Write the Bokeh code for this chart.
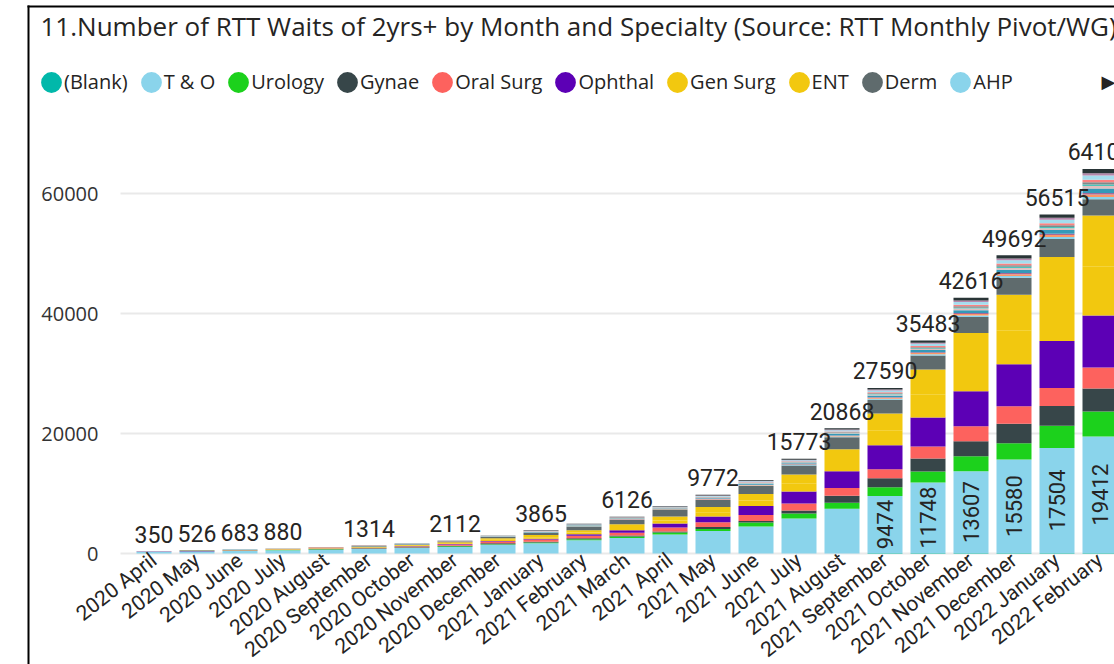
import math
import numpy as np
from bokeh.plotting import figure
from bokeh.models import (ColumnDataSource, FixedTicker, NumeralTickFormatter, Range1d,
                          Legend, LegendItem, BoxAnnotation, Label)
from bokeh.core.properties import value
from bokeh.embed import file_html
from bokeh.resources import INLINE

TITLE = "11.Number of RTT Waits of 2yrs+ by Month and Specialty (Source: RTT Monthly Pivot/WG)"

months = ["2020 April", "2020 May", "2020 June", "2020 July", "2020 August",
          "2020 September", "2020 October", "2020 November", "2020 December",
          "2021 January", "2021 February", "2021 March", "2021 April", "2021 May",
          "2021 June", "2021 July", "2021 August", "2021 September", "2021 October",
          "2021 November", "2021 December", "2022 January", "2022 February"]

blank = [0, 0, 0, 0, 0, 0, 0, 0, 0, 0, 0, 0, 0, 0, 0, 0, 0, 100, 100, 100, 100, 100, 100]
t_o = [230, 330, 420, 560, 640, 740, 900, 1100, 1450, 1700, 2200, 2600, 3170, 3750, 4500,
       5830, 7450, 9474, 11748, 13607, 15580, 17504, 19412]
urology = [10, 15, 20, 40, 50, 60, 70, 90, 100, 120, 170, 250, 330, 330, 670, 830, 1000,
           1450, 1830, 2500, 2700, 3670, 4170]
gynae = [15, 30, 30, 30, 50, 70, 80, 100, 150, 150, 170, 170, 170, 330, 250, 500, 1170,
         1500, 2170, 2500, 3250, 3330, 3830]
oral_surg = [10, 15, 20, 20, 40, 50, 80, 200, 300, 350, 400, 420, 670, 800, 1000, 1170,
             1300, 1500, 2000, 2500, 2900, 3000, 3500]
ophthal = [10, 15, 60, 30, 40, 50, 60, 80, 100, 150, 250, 420, 670, 950, 1500, 2000, 2800,
           4000, 4830, 5830, 7000, 7830, 8670]
gen_surg = [10, 15, 15, 30, 50, 70, 100, 150, 200, 250, 300, 400, 500, 700, 900, 1300, 1700,
            2500, 3800, 4700, 5600, 6800, 8100]
ent = [15, 20, 20, 40, 70, 90, 120, 150, 250, 350, 390, 600, 670, 900, 1100, 1530, 1950,
       2800, 4200, 5000, 6000, 7200, 8570]
derm = [20, 40, 40, 50, 60, 64, 80, 110, 200, 350, 570, 766, 1170, 1150, 1330, 1500, 2000,
        2300, 2330, 2670, 2830, 3000, 2670]
ahp = [3, 4, 5, 6, 8, 10, 13, 11, 16, 36, 40, 42, 44, 69, 80, 89, 120, 157, 198, 257, 299, 326, 406]
cardiology = [2, 4, 5, 7, 8, 10, 13, 10, 16, 35, 40, 38, 44, 69, 80, 89, 120, 157, 198, 257, 299, 326, 406]
gastro = [2, 2, 3, 4, 5, 6, 8, 7, 10, 22, 25, 26, 28, 43, 50, 56, 75, 98, 124, 160, 187, 204, 254]
neurology = [4, 7, 8, 12, 15, 18, 24, 20, 30, 67, 75, 74, 82, 129, 150, 167, 225, 295, 371, 481, 560, 612, 762]
plastic_surg = [3, 4, 5, 6, 8, 9, 13, 10, 16, 36, 40, 40, 44, 69, 80, 89, 120, 157, 198, 257, 299, 326, 406]
neurosurg = [1, 2, 3, 4, 5, 6, 8, 7, 10, 22, 25, 24, 28, 43, 50, 56, 75, 98, 124, 160, 187, 204, 254]
respiratory = [3, 3, 4, 6, 7, 8, 11, 9, 14, 31, 35, 36, 38, 60, 70, 78, 105, 138, 173, 225, 261, 286, 356]
cardiothoracic = [2, 4, 5, 6, 8, 10, 13, 11, 16, 36, 40, 40, 44, 69, 80, 89, 120, 157, 198, 257, 299, 326, 406]
rheumatology = [4, 6, 8, 11, 14, 17, 22, 18, 28, 62, 70, 70, 77, 121, 140, 156, 209, 275, 347, 449, 522, 571, 711]
paediatrics = [2, 4, 5, 7, 8, 10, 13, 11, 16, 36, 40, 40, 44, 69, 80, 89, 120, 157, 198, 257, 299, 326, 406]
other = [4, 6, 7, 11, 14, 16, 22, 18, 28, 62, 70, 70, 77, 121, 140, 155, 209, 277, 346, 449, 520, 574, 714]

series_names = ["(Blank)", "T & O", "Urology", "Gynae", "Oral Surg", "Ophthal", "Gen Surg",
                "ENT", "Derm", "AHP", "Cardiology", "Gastro", "Neurology", "Plastic Surg",
                "Neurosurg", "Respiratory", "Cardiothoracic", "Rheumatology", "Paediatrics", "Other"]
series_values = [blank, t_o, urology, gynae, oral_surg, ophthal, gen_surg, ent, derm, ahp,
                 cardiology, gastro, neurology, plastic_surg, neurosurg, respiratory,
                 cardiothoracic, rheumatology, paediatrics, other]
colors = ["#01B8AA", "#8AD4EB", "#1CD11C", "#374649", "#FD625E", "#5C00B5", "#F2C80F",
          "#F2C80F", "#5F6B6D", "#8AD4EB", "#FE9666", "#A66999", "#3599B8", "#DFBFBF",
          "#4AC5BB", "#7F898A", "#FB8281", "#A4DDEE", "#B687AC", "#293537"]
legend_count = 10

# which month totals get a data label (others hidden by overlap in the original)
total_label_months = [0, 1, 2, 3, 5, 7, 9, 11, 13, 15, 16, 17, 18, 19, 20, 21, 22]
# which months show the T & O value inside the bar
to_label_months = [17, 18, 19, 20, 21, 22]
y_ticks = [0, 20000, 40000, 60000]

# ---- layout constants (pixels within the canvas) ----
W, H = 1114, 664
PX_PER_CAT = 43.0          # distance between bar centres
FIRST_BAR_PX = 153.5       # centre of first bar
PLOT_LEFT_PX = 120         # left edge of plotting area (grid start)
BASE_PX = 553              # y pixel of value 0
PX_PER_UNIT = 0.006        # vertical pixels per unit

x_start = -FIRST_BAR_PX / PX_PER_CAT
x_end = (W - FIRST_BAR_PX) / PX_PER_CAT
y_start = -(H - BASE_PX) / PX_PER_UNIT
y_end = BASE_PX / PX_PER_UNIT
plot_left = x_start + PLOT_LEFT_PX / PX_PER_CAT

x = list(range(len(months)))
data = {"x": x}
keys = []
for i, vals in enumerate(series_values):
    k = "s%d" % i
    data[k] = vals
    keys.append(k)
source = ColumnDataSource(data)

totals = [sum(col) for col in zip(*series_values)]

p = figure(width=W, height=H, output_backend="svg", toolbar_location=None,
           x_range=Range1d(x_start, x_end), y_range=Range1d(y_start, y_end),
           min_border=0)
p.outline_line_color = None
p.background_fill_color = "white"
p.border_fill_color = "white"

# grid lines (start at the plotting area's left edge)
grid_ok = "cross_bounds" in p.ygrid[0].properties()
if grid_ok:
    p.ygrid.ticker = FixedTicker(ticks=y_ticks)
    p.ygrid.cross_bounds = (plot_left, x_end + 1)
    p.ygrid.grid_line_color = "#e9e9e9"
    p.ygrid.grid_line_width = 2
else:
    p.ygrid.visible = False
    p.segment(x0=[plot_left] * len(y_ticks), x1=[x_end + 1] * len(y_ticks),
              y0=y_ticks, y1=y_ticks, line_color="#e9e9e9", line_width=2)
p.xgrid.visible = False

p.vbar_stack(keys, x="x", width=0.814, fill_color=colors, line_color=None, source=source)

# totals
tl = ColumnDataSource(dict(x=[x[i] for i in total_label_months],
                           y=[totals[i] for i in total_label_months],
                           t=[str(totals[i]) for i in total_label_months]))
p.text(x="x", y="y", text="t", source=tl, text_align="center", text_baseline="alphabetic",
       y_offset=-17, text_font=value("Roboto"), text_font_size="23px", text_color="#252423")

# T & O values inside bars
il = ColumnDataSource(dict(x=[x[i] for i in to_label_months],
                           y=[blank[i] + t_o[i] / 2 for i in to_label_months],
                           t=[str(t_o[i]) for i in to_label_months]))
p.text(x="x", y="y", text="t", source=il, angle=math.pi / 2, text_align="center",
       text_baseline="middle", text_font=value("Roboto"), text_font_size="22px",
       text_color="#252423")

# axes (drawn at fixed positions inside the canvas)
p.xaxis.fixed_location = 0
p.xaxis.ticker = FixedTicker(ticks=x)
p.xaxis.major_label_overrides = {i: m for i, m in enumerate(months)}
p.xaxis.major_label_orientation = math.radians(38)
p.xaxis.axis_line_color = None
p.xaxis.major_tick_line_color = None
p.xaxis.minor_tick_line_color = None
p.xaxis.major_tick_out = 0
p.xaxis.major_tick_in = 0
p.xaxis.major_label_standoff = 4
p.xaxis.major_label_text_font = "Roboto"
p.xaxis.major_label_text_font_size = "21px"
p.xaxis.major_label_text_color = "#252423"

p.yaxis.fixed_location = plot_left
p.yaxis.ticker = FixedTicker(ticks=y_ticks)
p.yaxis.formatter = NumeralTickFormatter(format="0")
p.yaxis.axis_line_color = None
p.yaxis.major_tick_line_color = None
p.yaxis.minor_tick_line_color = None
p.yaxis.major_tick_out = 0
p.yaxis.major_tick_in = 0
p.yaxis.major_label_standoff = 22
p.yaxis.major_label_text_font = "Open Sans"
p.yaxis.major_label_text_font_size = "20px"
p.yaxis.major_label_text_color = "#333333"

# title
p.add_layout(Label(x=40, y=H - 25, x_units="screen", y_units="screen", text=TITLE,
                   text_font="Open Sans", text_font_size="26px", text_color="#252423",
                   text_baseline="alphabetic", text_align="left"))

# legend (circle markers via screen-sized ellipses with no visible points)
nan_src = ColumnDataSource(dict(x=np.array([np.nan]), y=np.array([np.nan])))
items = []
for i in range(legend_count):
    r = p.ellipse(x="x", y="y", width=19, height=19, width_units="screen",
                  height_units="screen", fill_color=colors[i], line_color=None,
                  source=nan_src)
    items.append(LegendItem(label=series_names[i], renderers=[r]))
legend = Legend(items=items, orientation="horizontal", location=(38, H - 95),
                glyph_width=26, glyph_height=26, label_standoff=0, spacing=10,
                padding=0, margin=0, border_line_color=None, background_fill_alpha=0,
                label_text_font="Open Sans", label_text_font_size="20px",
                label_text_color="#252423")
p.add_layout(legend, "center")

p.add_layout(Label(x=1101, y=H - 81, x_units="screen", y_units="screen", text="\u25B6",
                   text_font="DejaVu Sans", text_font_size="18px", text_color="#252423",
                   text_baseline="middle", text_align="left"))

# frame border (left and top edges of the visual)
p.add_layout(BoxAnnotation(left=27, right=29, top=5, bottom=H,
                           left_units="canvas", right_units="canvas",
                           top_units="canvas", bottom_units="canvas",
                           fill_color="black", fill_alpha=1, line_color=None))
p.add_layout(BoxAnnotation(left=27, right=W, top=5, bottom=7,
                           left_units="canvas", right_units="canvas",
                           top_units="canvas", bottom_units="canvas",
                           fill_color="black", fill_alpha=1, line_color=None))

open("out.html", "w").write(file_html(p, INLINE))
